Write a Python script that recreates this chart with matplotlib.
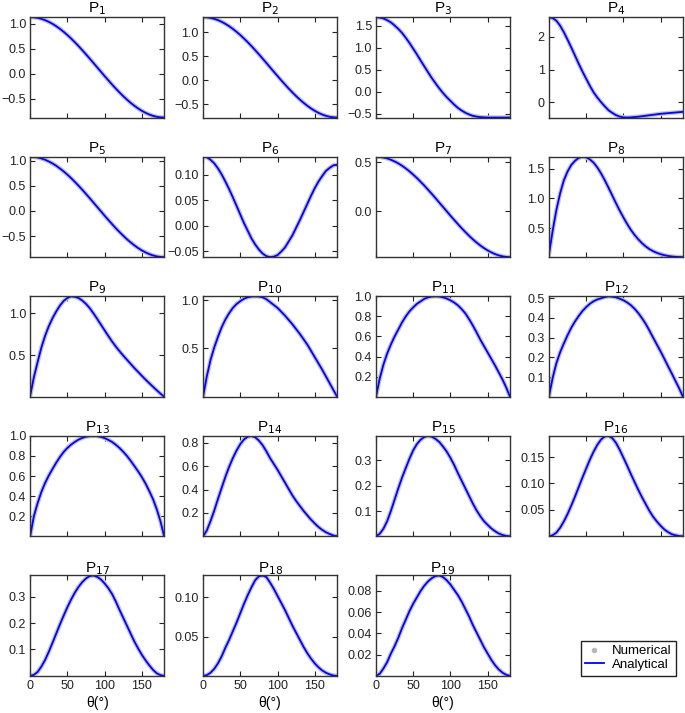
import numpy as np
import matplotlib
matplotlib.use("Agg")
import matplotlib.pyplot as plt
from matplotlib.lines import Line2D

plt.rcParams['font.family'] = ['Liberation Sans', 'DejaVu Sans']

# angle samples (degrees), every 5
theta = list(range(0, 181, 5))

# values, one list per panel
p1 = [1.13, 1.126, 1.115, 1.096, 1.07, 1.036, 0.996, 0.949, 0.896, 0.837, 0.773, 0.704, 0.63, 0.553, 0.472, 0.389, 0.304, 0.217, 0.13,
      0.043, -0.044, -0.129, -0.212, -0.293, -0.37, -0.444, -0.513, -0.577, -0.636, -0.689, -0.736, -0.776, -0.81, -0.836, -0.855, -0.866, -0.87]
p2 = [1.32, 1.316, 1.304, 1.284, 1.257, 1.222, 1.179, 1.13, 1.074, 1.012, 0.945, 0.872, 0.795, 0.714, 0.629, 0.542, 0.452, 0.362, 0.27,
      0.178, 0.088, -0.002, -0.089, -0.174, -0.255, -0.332, -0.405, -0.472, -0.534, -0.59, -0.639, -0.682, -0.717, -0.744, -0.764, -0.776, -0.78]
p3 = [1.70, 1.69, 1.67, 1.63, 1.58, 1.51, 1.43, 1.34, 1.23, 1.11, 0.98, 0.85, 0.71, 0.575, 0.44, 0.31, 0.19, 0.075, -0.03,
      -0.125, -0.21, -0.295, -0.37, -0.43, -0.48, -0.52, -0.55, -0.568, -0.58, -0.586, -0.59, -0.59, -0.59, -0.59, -0.59, -0.59, -0.59]
p4 = [2.61, 2.58, 2.50, 2.35, 2.15, 1.92, 1.68, 1.43, 1.18, 0.94, 0.72, 0.50, 0.30, 0.14, 0.00, -0.13, -0.25, -0.33, -0.40,
      -0.445, -0.47, -0.475, -0.47, -0.46, -0.45, -0.435, -0.42, -0.405, -0.39, -0.375, -0.36, -0.35, -0.34, -0.33, -0.32, -0.31, -0.30]
p5 = [1.08, 1.076, 1.065, 1.046, 1.02, 0.986, 0.946, 0.899, 0.846, 0.787, 0.723, 0.654, 0.58, 0.503, 0.422, 0.339, 0.254, 0.167, 0.08,
      -0.007, -0.094, -0.179, -0.262, -0.343, -0.42, -0.494, -0.563, -0.627, -0.686, -0.739, -0.786, -0.826, -0.86, -0.886, -0.905, -0.916, -0.92]
p6 = [0.136, 0.135, 0.130, 0.123, 0.113, 0.101, 0.087, 0.072, 0.056, 0.039, 0.022, 0.005, -0.010, -0.025, -0.037, -0.047, -0.055, -0.060, -0.062,
      -0.061, -0.058, -0.051, -0.043, -0.031, -0.019, -0.004, 0.011, 0.027, 0.043, 0.059, 0.074, 0.087, 0.098, 0.108, 0.114, 0.119, 0.120]
p7 = [0.555, 0.553, 0.547, 0.538, 0.524, 0.507, 0.487, 0.463, 0.436, 0.406, 0.373, 0.338, 0.30, 0.261, 0.219, 0.177, 0.134, 0.089, 0.045,
      0.001, -0.044, -0.087, -0.129, -0.171, -0.21, -0.248, -0.283, -0.316, -0.346, -0.373, -0.397, -0.417, -0.434, -0.448, -0.457, -0.463, -0.465]
p8 = [0.05, 0.45, 0.80, 1.08, 1.30, 1.45, 1.56, 1.63, 1.68, 1.70, 1.69, 1.655, 1.60, 1.52, 1.42, 1.305, 1.18, 1.05, 0.92,
      0.795, 0.68, 0.57, 0.47, 0.385, 0.31, 0.245, 0.19, 0.145, 0.11, 0.082, 0.06, 0.043, 0.03, 0.021, 0.015, 0.012, 0.01]
p9 = [0.02, 0.24, 0.42, 0.59, 0.73, 0.845, 0.94, 1.02, 1.09, 1.145, 1.18, 1.20, 1.195, 1.18, 1.15, 1.11, 1.06, 0.998, 0.933,
      0.865, 0.797, 0.73, 0.665, 0.605, 0.55, 0.498, 0.448, 0.399, 0.35, 0.304, 0.258, 0.213, 0.17, 0.128, 0.087, 0.047, 0.01]
p10 = [0.0, 0.21, 0.38, 0.51, 0.62, 0.72, 0.80, 0.865, 0.92, 0.96, 0.99, 1.015, 1.03, 1.038, 1.04, 1.038, 1.03, 1.01, 0.98,
       0.95, 0.92, 0.88, 0.84, 0.795, 0.75, 0.70, 0.65, 0.595, 0.54, 0.475, 0.41, 0.345, 0.28, 0.21, 0.14, 0.07, 0.0]
p11 = [0.0, 0.18, 0.32, 0.43, 0.52, 0.60, 0.67, 0.74, 0.80, 0.85, 0.89, 0.925, 0.95, 0.975, 0.99, 0.998, 1.0, 0.998, 0.99,
       0.978, 0.96, 0.938, 0.91, 0.873, 0.83, 0.773, 0.71, 0.642, 0.57, 0.505, 0.44, 0.375, 0.31, 0.24, 0.17, 0.09, 0.0]
p12 = [0.0, 0.095, 0.17, 0.225, 0.27, 0.312, 0.35, 0.382, 0.41, 0.435, 0.455, 0.472, 0.485, 0.494, 0.50, 0.506, 0.51, 0.508, 0.505,
       0.498, 0.49, 0.479, 0.465, 0.447, 0.425, 0.399, 0.37, 0.336, 0.30, 0.265, 0.23, 0.193, 0.155, 0.118, 0.08, 0.042, 0.0]
p13 = [0.0, 0.20, 0.33, 0.44, 0.53, 0.605, 0.67, 0.733, 0.79, 0.84, 0.88, 0.913, 0.94, 0.963, 0.98, 0.992, 0.998, 1.0, 0.998,
       0.99, 0.978, 0.96, 0.94, 0.912, 0.88, 0.842, 0.80, 0.752, 0.70, 0.647, 0.59, 0.525, 0.45, 0.37, 0.27, 0.15, 0.0]
p14 = [0.0, 0.05, 0.13, 0.22, 0.32, 0.415, 0.51, 0.595, 0.67, 0.735, 0.79, 0.83, 0.853, 0.86, 0.848, 0.82, 0.78, 0.728, 0.67,
       0.62, 0.57, 0.515, 0.46, 0.405, 0.35, 0.303, 0.26, 0.218, 0.18, 0.143, 0.11, 0.08, 0.055, 0.035, 0.02, 0.007, 0.0]
p15 = [0.0, 0.01, 0.03, 0.06, 0.10, 0.145, 0.19, 0.232, 0.27, 0.307, 0.34, 0.365, 0.382, 0.393, 0.397, 0.394, 0.385, 0.373, 0.355,
       0.335, 0.31, 0.282, 0.25, 0.22, 0.19, 0.16, 0.13, 0.103, 0.08, 0.06, 0.045, 0.031, 0.02, 0.011, 0.005, 0.0015, 0.0]
p16 = [0.0, 0.002, 0.007, 0.016, 0.028, 0.042, 0.058, 0.075, 0.093, 0.111, 0.128, 0.145, 0.160, 0.173, 0.183, 0.189, 0.19, 0.186, 0.177,
       0.164, 0.149, 0.134, 0.118, 0.103, 0.088, 0.074, 0.061, 0.048, 0.037, 0.028, 0.02, 0.013, 0.008, 0.004, 0.002, 0.0005, 0.0]
p17 = [0.0, 0.004, 0.015, 0.035, 0.06, 0.091, 0.125, 0.16, 0.195, 0.228, 0.26, 0.289, 0.315, 0.337, 0.355, 0.369, 0.378, 0.38, 0.375,
       0.365, 0.35, 0.332, 0.31, 0.282, 0.25, 0.22, 0.19, 0.16, 0.13, 0.104, 0.08, 0.059, 0.04, 0.023, 0.01, 0.003, 0.0]
p18 = [0.0, 0.001, 0.004, 0.009, 0.016, 0.025, 0.036, 0.046, 0.057, 0.068, 0.08, 0.092, 0.103, 0.113, 0.122, 0.127, 0.128, 0.126, 0.119,
       0.111, 0.102, 0.093, 0.084, 0.074, 0.064, 0.055, 0.046, 0.037, 0.029, 0.022, 0.016, 0.011, 0.007, 0.004, 0.002, 0.0005, 0.0]
p19 = [0.0, 0.002, 0.007, 0.013, 0.021, 0.028, 0.036, 0.045, 0.053, 0.061, 0.068, 0.074, 0.080, 0.085, 0.089, 0.092, 0.094, 0.0945, 0.093,
       0.09, 0.086, 0.081, 0.076, 0.07, 0.063, 0.056, 0.048, 0.041, 0.034, 0.027, 0.021, 0.015, 0.010, 0.006, 0.003, 0.001, 0.0]

panels = [p1, p2, p3, p4, p5, p6, p7, p8, p9, p10, p11, p12, p13, p14, p15, p16, p17, p18, p19]

yticks = [
    [-0.5, 0.0, 0.5, 1.0], [-0.5, 0.0, 0.5, 1.0], [-0.5, 0.0, 0.5, 1.0, 1.5], [0, 1, 2],
    [-0.5, 0.0, 0.5, 1.0], [-0.05, 0.0, 0.05, 0.10], [0.0, 0.5], [0.5, 1.0, 1.5],
    [0.5, 1.0], [0.5, 1.0], [0.2, 0.4, 0.6, 0.8, 1.0], [0.1, 0.2, 0.3, 0.4, 0.5],
    [0.2, 0.4, 0.6, 0.8, 1.0], [0.2, 0.4, 0.6, 0.8], [0.1, 0.2, 0.3], [0.05, 0.10, 0.15],
    [0.1, 0.2, 0.3], [0.05, 0.10], [0.02, 0.04, 0.06, 0.08],
]
ytick_fmt = ['%.1f'] * 3 + ['%d'] + ['%.1f'] + ['%.2f'] + ['%.1f'] * 8 + ['%.1f', '%.2f', '%.1f', '%.2f', '%.2f']
xticks = [0, 50, 100, 150]

fig, axes = plt.subplots(5, 4, figsize=(6.85, 7.13), dpi=100)
plt.subplots_adjust(left=0.044, right=0.997, top=0.976, bottom=0.052, wspace=0.29, hspace=0.39)

for i, ax in enumerate(axes.flat):
    if i >= len(panels):
        ax.axis('off')
        continue
    y = panels[i]
    ax.plot(theta, y, color='#c4c4c4', lw=3.2, solid_capstyle='round', solid_joinstyle='round')
    ax.plot(theta, y, color='blue', lw=1.3, solid_joinstyle='round')
    ax.set_xlim(0, 180)
    ax.set_ylim(min(y), max(y))
    ax.set_title('P$_{%d}$' % (i + 1), fontsize=11, pad=2)
    ax.set_yticks(yticks[i])
    ax.set_yticklabels([(ytick_fmt[i] % v).replace('-', '\u2212') for v in yticks[i]])
    ax.set_xticks(xticks)
    ax.tick_params(direction='in', top=True, right=True, length=3.5, width=0.8,
                   labelsize=9, pad=3, colors='#222222')
    for s in ax.spines.values():
        s.set_color('#333333')
        s.set_linewidth(1.0)
    if i >= 16:
        ax.set_xlabel('θ(°)', fontsize=10, labelpad=3)
    else:
        ax.set_xticklabels([])

handles = [Line2D([], [], marker='o', ls='none', color='#b8b8b8', ms=3),
           Line2D([], [], color='blue', lw=1.3)]
leg = fig.legend(handles, ['Numerical', 'Analytical'], loc='upper left',
                 bbox_to_anchor=(574 / 685, 1 - 634 / 713), fontsize=9.5,
                 fancybox=False, edgecolor='#222222', framealpha=1,
                 borderpad=0.35, handlelength=1.4, labelspacing=0.1, handletextpad=0.6)
leg.get_frame().set_linewidth(1.0)

fig.savefig('out.png', dpi=100)
